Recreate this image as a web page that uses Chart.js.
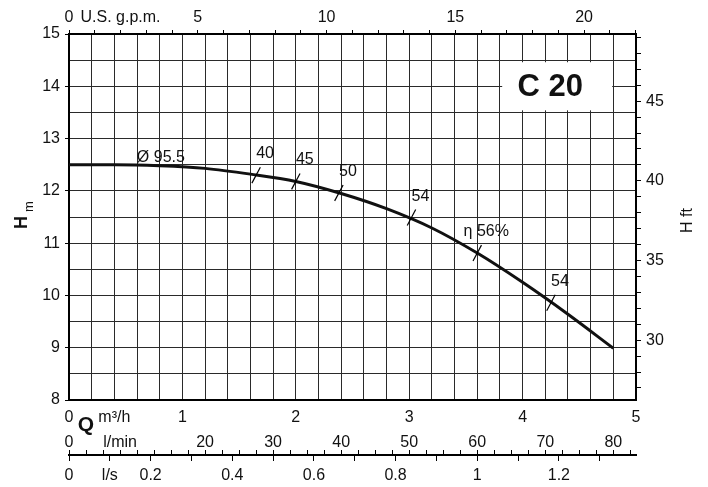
<!DOCTYPE html>
<html><head><meta charset="utf-8">
<script src="https://cdn.jsdelivr.net/npm/chart.js@4.4.1/dist/chart.umd.min.js"></script>
<style>html,body{margin:0;padding:0;background:#fff}#wrap{width:708px;height:487px}</style>
</head><body><div id="wrap"><canvas id="c" width="708" height="487"></canvas></div>
<script>
// ---- data ----
const flowM3h = [0, 0.4, 0.8, 1.2, 1.6, 2.0, 2.4, 2.8, 3.2, 3.6, 4.0, 4.4, 4.8];
const headM   = [12.50, 12.50, 12.48, 12.43, 12.32, 12.18, 11.95, 11.66, 11.29, 10.81, 10.25, 9.64, 8.99];
const effFlow   = [1.65, 2.0, 2.38, 3.02, 3.6, 4.25];
const effHead   = [12.30, 12.18, 11.96, 11.49, 10.81, 9.86];
const effLabels = ['40', '45', '50', '54', 'η 56%', '54'];
const curveLabel = 'Ø 95.5';
const modelName = 'C 20';

// tick labels
const m3hLabels  = [0, 1, 2, 3, 4, 5];
const gpmLabels  = [0, 5, 10, 15, 20];
const hmLabels   = [8, 9, 10, 11, 12, 13, 14, 15];
const hftLabels  = [30, 35, 40, 45];
const lminLabels = [0, 20, 30, 40, 50, 60, 70, 80];
const lsLabels   = [0, 0.2, 0.4, 0.6, 0.8, 1, 1.2];

// unit conversions
const GPM_PER_M3H = 4.40287;
const FT_PER_M = 3.28084;
const LMIN_PER_M3H = 1000 / 60;
const LS_PER_M3H = 1 / 3.6;
const Q_MAX = 5, H_MIN = 8, H_MAX = 15;

const FONT = "'Liberation Sans', Arial, Helvetica, sans-serif";
Chart.defaults.font.family = FONT;
Chart.defaults.font.size = 16;
Chart.defaults.color = '#111';

const near = (arr, v) => arr.some(a => Math.abs(a - v) < 1e-6);
const fmt = v => String(Math.round(v * 100) / 100);

const decor = {
  id: 'decor',
  beforeDatasetsDraw(chart) {
    const {ctx, scales: {x, y}} = chart;
    const x0 = x.getPixelForValue(3.82), x1 = x.getPixelForValue(4.79);
    const y0 = y.getPixelForValue(14.46), y1 = y.getPixelForValue(13.54);
    ctx.save();
    ctx.fillStyle = '#fff';
    ctx.fillRect(x0, y0, x1 - x0, y1 - y0);
    ctx.fillStyle = '#111';
    ctx.font = 'bold 31px ' + FONT;
    ctx.textAlign = 'center';
    ctx.textBaseline = 'middle';
    ctx.fillText(modelName, (x0 + x1) / 2 - 7, (y0 + y1) / 2 + 1);
    ctx.restore();
  },
  afterDraw(chart) {
    const {ctx, scales} = chart;
    const {x, y} = scales;
    ctx.save();
    ctx.fillStyle = '#111';
    ctx.font = '16px ' + FONT;
    ctx.textAlign = 'center';
    ctx.textBaseline = 'alphabetic';
    // efficiency labels
    const meta = chart.getDatasetMeta(1);
    meta.data.forEach((pt, i) => {
      ctx.fillText(effLabels[i], pt.x + 9, pt.y - 17);
    });
    // impeller diameter label
    ctx.fillText(curveLabel, x.getPixelForValue(0.81), y.getPixelForValue(12.56));
    // Q
    ctx.font = 'bold 21px ' + FONT;
    ctx.textBaseline = 'middle';
    ctx.fillText('Q', 86, 425);
    // H m (left title)
    ctx.save();
    ctx.translate(27, 229);
    ctx.rotate(-Math.PI / 2);
    ctx.textAlign = 'left';
    ctx.textBaseline = 'alphabetic';
    ctx.font = 'bold 18px ' + FONT;
    ctx.fillText('H', 0, 0);
    ctx.font = '13px ' + FONT;
    ctx.fillText('m', 17, 6);
    ctx.restore();
    // H ft (right title)
    ctx.save();
    ctx.translate(692, 233);
    ctx.rotate(-Math.PI / 2);
    ctx.textAlign = 'left';
    ctx.textBaseline = 'alphabetic';
    ctx.font = '16px ' + FONT;
    ctx.fillText('H ft', 0, 0);
    ctx.restore();
    // l/min tick marks pointing up from the l/s axis line
    const lm = scales.xlmin, ls = scales.xls;
    ctx.strokeStyle = '#000';
    ctx.lineWidth = 1;
    lm.ticks.forEach(t => {
      const px = Math.round(lm.getPixelForValue(t.value)) + 0.5;
      ctx.beginPath();
      ctx.moveTo(px, ls.top);
      ctx.lineTo(px, ls.top - 5);
      ctx.stroke();
    });
    ctx.restore();
  }
};

const gridColor = '#2a2a2a';
const frame = {display: true, color: '#000', width: 2};

new Chart(document.getElementById('c'), {
  type: 'line',
  data: {
    datasets: [
      {
        data: flowM3h.map((q, i) => ({x: q, y: headM[i]})),
        borderColor: '#111',
        borderWidth: 3,
        pointRadius: 0,
        cubicInterpolationMode: 'monotone',
        fill: false,
        order: 2
      },
      {
        type: 'scatter',
        data: effFlow.map((q, i) => ({x: q, y: effHead[i]})),
        showLine: false,
        pointStyle: 'line',
        rotation: -62,
        pointRadius: 9,
        borderColor: '#000',
        borderWidth: 1.2,
        order: 1
      }
    ]
  },
  options: {
    responsive: false,
    animation: false,
    events: [],
    layout: {padding: 0},
    plugins: {legend: {display: false}, tooltip: {enabled: false}},
    scales: {
      x: {
        type: 'linear', position: 'bottom', min: 0, max: Q_MAX,
        afterFit: s => { s.height = 28; },
        border: frame,
        grid: {color: gridColor, lineWidth: 1, drawTicks: false},
        ticks: {
          stepSize: 0.2, autoSkip: false, maxRotation: 0, includeBounds: false, padding: 8,
          callback: v => near(m3hLabels, v) ? fmt(v) : (Math.abs(v - 0.4) < 1e-6 ? 'm³/h' : '')
        }
      },
      xlmin: {
        type: 'linear', position: 'bottom', min: 0, max: Q_MAX * LMIN_PER_M3H,
        afterFit: s => { s.height = 27; },
        border: {display: false},
        grid: {display: false, drawTicks: false},
        ticks: {
          stepSize: 2.5, autoSkip: false, maxRotation: 0, includeBounds: false, padding: 5,
          callback: v => near(lminLabels, v) ? fmt(v) : (Math.abs(v - 7.5) < 1e-6 ? 'l/min' : '')
        }
      },
      xls: {
        type: 'linear', position: 'bottom', min: 0, max: Q_MAX * LS_PER_M3H,
        afterFit: s => { s.height = 32; },
        border: frame,
        grid: {drawOnChartArea: false, drawTicks: true, tickLength: 6, color: '#000'},
        ticks: {
          stepSize: 0.1, autoSkip: false, maxRotation: 0, includeBounds: false, padding: 5,
          callback: v => near(lsLabels, v) ? fmt(v) : (Math.abs(v - 0.1) < 1e-6 ? 'l/s' : '')
        }
      },
      xgpm: {
        type: 'linear', position: 'top', min: 0, max: Q_MAX * GPM_PER_M3H,
        afterFit: s => { s.height = 34; },
        border: frame,
        grid: {drawOnChartArea: false, drawTicks: true, tickLength: 4, color: '#000'},
        ticks: {
          stepSize: 1, autoSkip: false, maxRotation: 0, includeBounds: false, padding: 3,
          callback: v => near(gpmLabels, v) ? fmt(v) : (Math.abs(v - 2) < 1e-6 ? 'U.S. g.p.m.' : '')
        }
      },
      y: {
        type: 'linear', position: 'left', min: H_MIN, max: H_MAX,
        afterFit: s => { s.width = 69; },
        border: frame,
        grid: {
          color: gridColor, lineWidth: 1, drawTicks: true, tickLength: 4,
          tickColor: c => (c.tick && Number.isInteger(c.tick.value)) ? '#000' : 'rgba(0,0,0,0)'
        },
        ticks: {
          stepSize: 0.5, autoSkip: false, padding: 5,
          callback: v => near(hmLabels, v) ? fmt(v) : ''
        }
      },
      yft: {
        type: 'linear', position: 'right', min: H_MIN * FT_PER_M, max: H_MAX * FT_PER_M,
        afterFit: s => { s.width = 72; },
        border: frame,
        grid: {drawOnChartArea: false, drawTicks: true, tickLength: 5, color: '#000'},
        ticks: {
          stepSize: 1, autoSkip: false, includeBounds: false, padding: 5,
          callback: v => near(hftLabels, v) ? fmt(v) : ''
        }
      }
    }
  },
  plugins: [decor]
});
</script>
</body></html>
